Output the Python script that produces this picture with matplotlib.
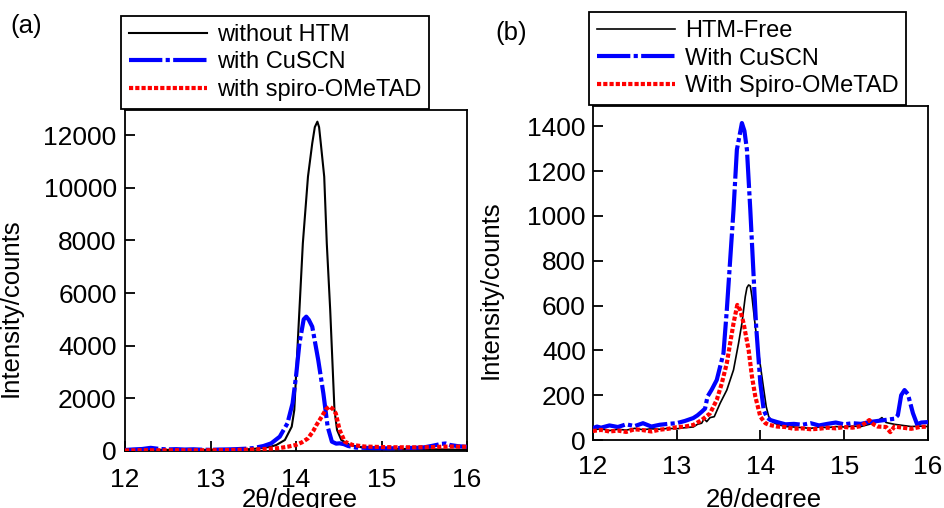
import matplotlib
matplotlib.use("Agg")
import matplotlib.pyplot as plt

plt.rcParams['font.family'] = ['Liberation Sans', 'DejaVu Sans']

# ---------------- Panel (a) data ----------------
xa_black = [12.0, 12.2, 12.4, 12.6, 12.8, 13.0, 13.2, 13.4, 13.5, 13.6, 13.7, 13.77, 13.87,
            13.95, 13.98, 14.04, 14.08, 14.14, 14.19, 14.22, 14.25, 14.27, 14.29, 14.33,
            14.36, 14.40, 14.45, 14.48, 14.53, 14.63, 14.75, 14.9, 15.1, 15.3, 15.5, 15.7,
            15.9, 16.0]
ya_black = [40, 50, 45, 40, 40, 45, 50, 60, 80, 110, 160, 228, 418,
            924, 1557, 5355, 7887, 10419, 11685, 12300, 12507, 12300, 11685, 10419,
            7887, 5355, 1557, 800, 418, 228, 150, 110, 90, 75, 65, 60,
            50, 45]

xa_cuscn = [12.0, 12.1, 12.2, 12.3, 12.4, 12.5, 12.6, 12.7, 12.8, 12.9, 13.0, 13.1, 13.2,
            13.3, 13.4, 13.5, 13.62, 13.71, 13.81, 13.90, 13.96, 14.00, 14.04, 14.09,
            14.12, 14.15, 14.19, 14.26, 14.32, 14.37, 14.42, 14.47, 14.51, 14.56, 14.61,
            14.7, 14.8, 14.9, 15.0, 15.1, 15.2, 15.3, 15.4, 15.5, 15.6, 15.7, 15.75, 15.8,
            15.9, 16.0]
ya_cuscn = [40, 60, 75, 120, 80, 60, 70, 55, 65, 50, 45, 55, 60,
            70, 85, 110, 190, 291, 544, 1051, 1810, 2823, 4089, 5000,
            5102, 4980, 4722, 3456, 2190, 924, 354, 280, 291, 260, 190,
            130, 120, 110, 105, 100, 110, 115, 120, 140, 200, 270, 285, 230,
            180, 160]

xa_spiro = [12.0, 12.2, 12.4, 12.6, 12.8, 13.0, 13.2, 13.4, 13.6, 13.8, 13.9, 14.0, 14.07,
            14.14, 14.2, 14.24, 14.3, 14.35, 14.39, 14.43, 14.465, 14.51, 14.57, 14.66,
            14.8, 15.0, 15.2, 15.4, 15.6, 15.8, 16.0]
ya_spiro = [20, 30, 25, 30, 25, 30, 35, 50, 70, 110, 160, 230, 330,
            480, 750, 990, 1300, 1580, 1690, 1600, 1430, 800, 354, 230,
            170, 150, 140, 140, 150, 170, 160]

# ---------------- Panel (b) data ----------------
xb_free = [12.0, 12.1, 12.2, 12.3, 12.4, 12.5, 12.6, 12.7, 12.8, 12.9, 13.0, 13.1, 13.2,
           13.25, 13.3, 13.33, 13.36, 13.4, 13.45, 13.52, 13.6, 13.68, 13.74, 13.78, 13.82,
           13.84, 13.86, 13.88, 13.90, 13.94, 13.98, 14.03, 14.07, 14.10, 14.15, 14.2,
           14.3, 14.4, 14.5, 14.6, 14.7, 14.8, 14.9, 15.0, 15.1, 15.2, 15.3, 15.4, 15.45,
           15.5, 15.6, 15.7, 15.8, 15.9, 16.0]
yb_free = [45, 50, 42, 48, 44, 52, 46, 50, 48, 52, 50, 55, 58,
           70, 75, 95, 82, 100, 104, 164, 223, 313, 432, 521, 640,
           680, 692, 688, 640, 506, 387, 253, 149, 104, 80, 70,
           60, 58, 55, 52, 58, 55, 60, 58, 62, 60, 70, 85, 100,
           78, 70, 65, 60, 62, 60]

xb_cuscn = [12.0, 12.05, 12.1, 12.2, 12.3, 12.4, 12.5, 12.6, 12.7, 12.8, 12.9, 13.0, 13.1,
            13.2, 13.25, 13.3, 13.34, 13.37, 13.42, 13.48, 13.56, 13.60, 13.64, 13.68,
            13.72, 13.78, 13.81, 13.84, 13.88, 13.91, 13.95, 14.0, 14.04, 14.08, 14.12,
            14.2, 14.3, 14.4, 14.5, 14.6, 14.7, 14.8, 14.9, 15.0, 15.1, 15.2, 15.3, 15.4,
            15.5, 15.6, 15.64, 15.68, 15.72, 15.76, 15.82, 15.87, 15.92, 16.0]
yb_cuscn = [52, 60, 55, 65, 58, 70, 62, 75, 60, 68, 72, 75, 85,
            98, 110, 126, 140, 194, 225, 268, 387, 581, 804, 1028,
            1296, 1415, 1380, 1296, 1028, 804, 506, 253, 134, 100, 89,
            80, 70, 72, 68, 75, 65, 72, 78, 70, 75, 72, 80, 85,
            90, 95, 110, 200, 223, 205, 120, 70, 78, 80]

xb_spiro = [12.0, 12.1, 12.2, 12.3, 12.4, 12.5, 12.6, 12.7, 12.8, 12.9, 13.0, 13.1, 13.2,
            13.3, 13.4, 13.48, 13.54, 13.60, 13.64, 13.68, 13.725, 13.76, 13.80, 13.86,
            13.90, 13.94, 14.0, 14.06, 14.1, 14.2, 14.3, 14.4, 14.5, 14.6, 14.7, 14.8, 14.9,
            15.0, 15.1, 15.2, 15.3, 15.35, 15.4, 15.5, 15.55, 15.6, 15.7, 15.8, 15.9, 16.0]
yb_spiro = [40, 45, 38, 42, 36, 48, 44, 38, 46, 50, 57, 60, 67,
            89, 119, 179, 253, 343, 432, 521, 603, 580, 521, 402,
            283, 194, 104, 75, 68, 60, 58, 50, 52, 48, 50, 55, 52,
            58, 55, 62, 89, 70, 60, 58, 35, 60, 55, 50, 58, 60]

labels_a = ['without HTM', 'with CuSCN', 'with spiro-OMeTAD']
labels_b = ['HTM-Free', 'With CuSCN', 'With Spiro-OMeTAD']
xticks = [12, 13, 14, 15, 16]
yticks_a = [0, 2000, 4000, 6000, 8000, 10000, 12000]
yticks_b = [0, 200, 400, 600, 800, 1000, 1200, 1400]

fig = plt.figure(figsize=(9.44, 5.08), dpi=100)
W, H = 944.0, 508.0

def px_axes(l, t, r, b):
    return fig.add_axes([l / W, 1 - b / H, (r - l) / W, (b - t) / H])

axa = px_axes(125, 110, 467, 451)
axb = px_axes(592.7, 106, 928, 440)

blue_ls = (0, (8, 0.8, 1, 0.8))
red_ls = (0, (1, 0.5))

for ax, xs, ys, labels, lwk in [
        (axa, (xa_black, xa_cuscn, xa_spiro), (ya_black, ya_cuscn, ya_spiro), labels_a, 1.5),
        (axb, (xb_free, xb_cuscn, xb_spiro), (yb_free, yb_cuscn, yb_spiro), labels_b, 1.2)]:
    ax.plot(xs[0], ys[0], color='black', lw=lwk, label=labels[0], zorder=2)
    ax.plot(xs[1], ys[1], color='#0000ff', lw=3, linestyle=blue_ls,
            dash_capstyle='butt', label=labels[1], zorder=3)
    ax.plot(xs[2], ys[2], color='#ff0000', lw=3, linestyle=red_ls,
            dash_capstyle='butt', label=labels[2], zorder=4)
    ax.set_xlim(12, 16)
    ax.set_xticks(xticks)
    for s in ax.spines.values():
        s.set_linewidth(1.3)
    ax.tick_params(direction='in', length=7, width=1.3, labelsize=19,
                   colors='black')

axa.set_ylim(0, 12950)
axa.set_yticks(yticks_a)
axb.set_ylim(0, 1491)
axb.set_yticks(yticks_b)

axa.tick_params(axis='x', pad=12)
axa.tick_params(axis='y', pad=6)
axb.tick_params(axis='x', pad=10.5)
axb.tick_params(axis='y', pad=5)

for ax in (axa, axb):
    ax.set_ylabel('Intensity/counts', fontsize=18.5)
    ax.set_xlabel('2θ/degree', fontsize=18.5)

axa.yaxis.set_label_coords(-0.298, 0.42)
axb.yaxis.set_label_coords(-0.2675, 0.449)
axa.xaxis.set_label_coords(0.512, -0.1085)
axb.xaxis.set_label_coords(0.511, -0.1437)

leg_kw = dict(loc='upper left', borderaxespad=0, fontsize=17, frameon=True,
              fancybox=False, framealpha=1, edgecolor='black', handlelength=3.3,
              handletextpad=0.42, labelspacing=0.24, borderpad=0.33)
la = axa.legend(bbox_to_anchor=(-0.0117, 1.2757), **leg_kw)
lb = axb.legend(bbox_to_anchor=(-0.011, 1.281), **leg_kw)
for lg in (la, lb):
    lg.get_frame().set_linewidth(1.3)

fig.text(26 / W, 1 - 26 / H, '(a)', fontsize=18.5, ha='center', va='center')
fig.text(511 / W, 1 - 33 / H, '(b)', fontsize=18.5, ha='center', va='center')

fig.savefig('out.png', dpi=100)
